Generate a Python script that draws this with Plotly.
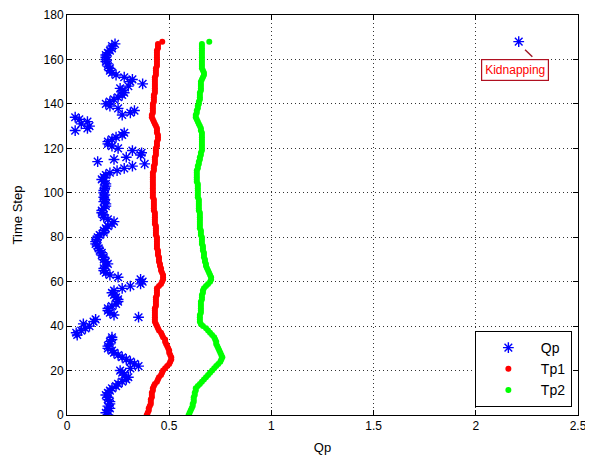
import plotly.graph_objects as go

time_step = list(range(0, 169))

qp = [0.20, 0.19, 0.20, 0.21, 0.20, 0.21, 0.21, 0.20, 0.20, 0.19,
      0.20, 0.21, 0.22, 0.24, 0.25, 0.27, 0.29, 0.30, 0.28, 0.27,
      0.26, 0.31, 0.35, 0.33, 0.31, 0.29, 0.27, 0.25, 0.23, 0.22,
      0.20, 0.20, 0.21, 0.21, 0.22, 0.22, 0.05, 0.045, 0.07, 0.09,
      0.11, 0.08, 0.13, 0.14, 0.35, 0.23, 0.21, 0.20, 0.20, 0.22,
      0.24, 0.25, 0.25, 0.24, 0.23, 0.22, 0.23, 0.27, 0.31, 0.36,
      0.37, 0.36, 0.25, 0.21, 0.19, 0.18, 0.18, 0.19, 0.20, 0.19,
      0.18, 0.18, 0.17, 0.17, 0.16, 0.155, 0.15, 0.14, 0.14, 0.145,
      0.15, 0.16, 0.18, 0.18, 0.19, 0.20, 0.22, 0.23, 0.20, 0.18,
      0.18, 0.17, 0.17, 0.18, 0.19, 0.19, 0.18, 0.185, 0.18, 0.185,
      0.18, 0.18, 0.185, 0.19, 0.19, 0.18, 0.17, 0.18, 0.19, 0.21,
      0.245, 0.28, 0.32, 0.38, 0.15, 0.23, 0.29, 0.36, 0.365, 0.32,
      0.25, 0.22, 0.20, 0.20, 0.22, 0.24, 0.27, 0.28, 0.04, 0.10,
      0.11, 0.07, 0.10, 0.06, 0.04, 0.27, 0.31, 0.33, 0.25, 0.21,
      0.19, 0.21, 0.23, 0.25, 0.27, 0.28, 0.27, 0.26, 0.30, 0.37,
      0.31, 0.32, 0.28, 0.24, 0.22, 0.21, 0.21, 0.20, 0.20, 0.19,
      0.19, 0.19, 0.19, 0.20, 0.21, 0.22, 0.22, 0.235, 2.21]

tp1 = [0.39, 0.395, 0.40, 0.40, 0.405, 0.41, 0.41, 0.41, 0.415, 0.415,
       0.415, 0.42, 0.42, 0.425, 0.43, 0.44, 0.445, 0.45, 0.46, 0.465,
       0.47, 0.48, 0.49, 0.50, 0.505, 0.51, 0.51, 0.505, 0.50, 0.50,
       0.495, 0.49, 0.485, 0.48, 0.48, 0.47, 0.465, 0.46, 0.45, 0.445,
       0.44, 0.435, 0.43, 0.43, 0.43, 0.43, 0.43, 0.43, 0.43, 0.435,
       0.435, 0.435, 0.435, 0.435, 0.44, 0.44, 0.44, 0.44, 0.45, 0.46,
       0.465, 0.47, 0.47, 0.47, 0.465, 0.46, 0.46, 0.455, 0.455, 0.45,
       0.45, 0.45, 0.445, 0.445, 0.445, 0.44, 0.44, 0.44, 0.44, 0.44,
       0.44, 0.435, 0.435, 0.435, 0.435, 0.435, 0.43, 0.43, 0.43, 0.43,
       0.43, 0.43, 0.425, 0.425, 0.425, 0.425, 0.425, 0.425, 0.42, 0.42,
       0.42, 0.42, 0.42, 0.42, 0.42, 0.42, 0.42, 0.42, 0.42, 0.42,
       0.425, 0.425, 0.425, 0.43, 0.43, 0.43, 0.43, 0.435, 0.435, 0.435,
       0.435, 0.44, 0.44, 0.44, 0.445, 0.445, 0.445, 0.44, 0.44, 0.44,
       0.435, 0.43, 0.425, 0.42, 0.415, 0.415, 0.42, 0.42, 0.42, 0.42,
       0.42, 0.425, 0.425, 0.425, 0.425, 0.43, 0.43, 0.43, 0.43, 0.43,
       0.43, 0.43, 0.43, 0.435, 0.435, 0.435, 0.435, 0.44, 0.44, 0.44,
       0.44, 0.44, 0.44, 0.44, 0.44, 0.445, 0.445, 0.445, 0.466]

tp2 = [0.595, 0.60, 0.605, 0.61, 0.615, 0.615, 0.62, 0.62, 0.62, 0.625,
       0.625, 0.63, 0.63, 0.64, 0.65, 0.66, 0.67, 0.68, 0.69, 0.70,
       0.71, 0.72, 0.73, 0.74, 0.75, 0.755, 0.76, 0.755, 0.75, 0.745,
       0.74, 0.735, 0.73, 0.73, 0.725, 0.72, 0.71, 0.70, 0.69, 0.68,
       0.665, 0.655, 0.65, 0.65, 0.65, 0.65, 0.655, 0.655, 0.655, 0.655,
       0.655, 0.655, 0.66, 0.66, 0.66, 0.665, 0.665, 0.67, 0.68, 0.69,
       0.70, 0.705, 0.705, 0.70, 0.695, 0.69, 0.685, 0.68, 0.68, 0.675,
       0.675, 0.67, 0.67, 0.67, 0.665, 0.665, 0.665, 0.66, 0.66, 0.66,
       0.66, 0.655, 0.655, 0.655, 0.65, 0.65, 0.65, 0.65, 0.65, 0.65,
       0.65, 0.65, 0.645, 0.645, 0.645, 0.645, 0.645, 0.645, 0.64, 0.64,
       0.64, 0.64, 0.64, 0.64, 0.64, 0.635, 0.635, 0.635, 0.635, 0.635,
       0.635, 0.64, 0.64, 0.645, 0.645, 0.65, 0.65, 0.655, 0.655, 0.66,
       0.66, 0.66, 0.66, 0.66, 0.66, 0.66, 0.66, 0.66, 0.655, 0.655,
       0.65, 0.645, 0.64, 0.635, 0.63, 0.63, 0.635, 0.635, 0.64, 0.64,
       0.645, 0.645, 0.65, 0.65, 0.65, 0.65, 0.655, 0.655, 0.655, 0.655,
       0.655, 0.66, 0.665, 0.67, 0.67, 0.665, 0.66, 0.66, 0.66, 0.66,
       0.66, 0.66, 0.66, 0.66, 0.66, 0.66, 0.66, 0.66, 0.696]

x_ticks = [0, 0.5, 1, 1.5, 2, 2.5]
x_tick_labels = ["0", "0.5", "1", "1.5", "2", "2.5"]
y_ticks = [0, 20, 40, 60, 80, 100, 120, 140, 160, 180]

kidnap_label = "Kidnapping"
kidnap_x = 2.194
kidnap_y = 155.2

font_family = "Liberation Sans, Arial, Helvetica, sans-serif"

fig = go.Figure()
fig.add_trace(go.Scatter(
    x=qp, y=time_step, mode="markers", name="Qp",
    marker=dict(symbol="asterisk-open", size=9, color="#0000ff",
                line=dict(color="#0000ff", width=1.4)),
))
fig.add_trace(go.Scatter(
    x=tp1, y=time_step, mode="markers", name="Tp1",
    marker=dict(symbol="circle", size=6, color="#ff0000", line=dict(width=0)),
))
fig.add_trace(go.Scatter(
    x=tp2, y=time_step, mode="markers", name="Tp2",
    marker=dict(symbol="circle", size=6, color="#00ff00", line=dict(width=0)),
))

axis_common = dict(
    showline=True, linecolor="black", linewidth=1, mirror="ticks",
    ticks="inside", ticklen=5, tickcolor="black", tickwidth=1,
    showgrid=True, gridcolor="#333333", gridwidth=1, griddash="1px,3px",
    zeroline=False, automargin=False, ticklabeloverflow="allow",
    tickfont=dict(family=font_family, size=12, color="black"),
)

fig.update_xaxes(
    range=[0, 2.5], tickvals=x_ticks, ticktext=x_tick_labels,
    title=dict(text="Qp", font=dict(family=font_family, size=13, color="black"), standoff=10),
    **axis_common,
)
fig.update_yaxes(
    range=[0, 180], tickvals=y_ticks,
    title=dict(text="Time Step", font=dict(family=font_family, size=13, color="black"), standoff=18),
    **axis_common,
)

# arrow line of the text-arrow
fig.add_annotation(
    x=2.241, y=164.4, ax=2.284, ay=160.6, axref="x", ayref="y",
    xref="x", yref="y", text="", showarrow=True, arrowhead=0,
    arrowwidth=1.5, arrowcolor="#a01c28", standoff=0, startstandoff=0,
)
fig.add_annotation(
    x=kidnap_x, y=kidnap_y, xref="x", yref="y", text=kidnap_label,
    showarrow=False, font=dict(family=font_family, size=12, color="#ff0000"),
    bordercolor="#b01020", borderwidth=1.2, borderpad=3, bgcolor="white",
)

# page body has an 8px margin: figure is shifted accordingly
fig.update_layout(
    width=585, height=454,
    margin=dict(l=59, r=15, t=7, b=47, autoexpand=False),
    paper_bgcolor="white", plot_bgcolor="white",
    font=dict(family=font_family, size=12, color="black"),
    showlegend=True,
    legend=dict(
        x=0.988, y=0.02, xanchor="right", yanchor="bottom",
        bgcolor="white", bordercolor="black", borderwidth=1,
        font=dict(family=font_family, size=14, color="black"),
        itemwidth=55, tracegroupgap=0,
    ),
)

fig.write_html("out.html")
